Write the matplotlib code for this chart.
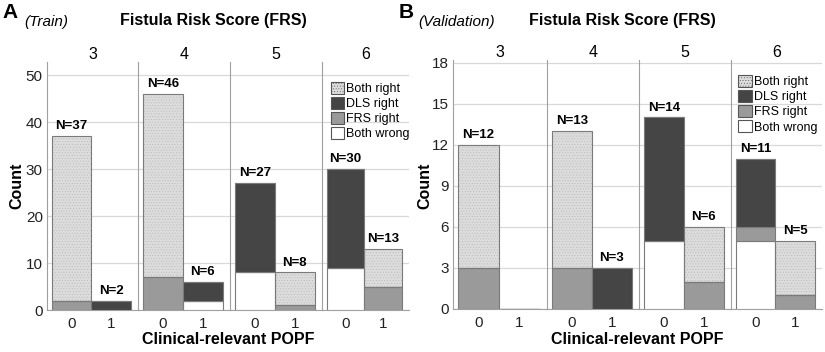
import numpy as np
import matplotlib
matplotlib.use('Agg')
import matplotlib.pyplot as plt
from matplotlib.patches import Patch

plt.rcParams['font.family'] = ['Liberation Sans', 'DejaVu Sans']
plt.rcParams['hatch.linewidth'] = 0.3

# Datos: FRS 3..6, POPF 0/1
frs = [3, 4, 5, 6]
popf = [0, 1]
grupos = ['Both right', 'DLS right', 'FRS right', 'Both wrong']

# entrenamiento (filas = FRS, columnas = POPF 0/1)
train_both_wrong = [[0, 0], [0, 2], [8, 0], [9, 0]]
train_frs_right = [[2, 0], [7, 0], [0, 1], [0, 5]]
train_dls_right = [[0, 2], [0, 4], [19, 0], [21, 0]]
train_both_right = [[35, 0], [39, 0], [0, 7], [0, 8]]

# validacion
val_both_wrong = [[0, 0], [0, 0], [5, 0], [5, 0]]
val_frs_right = [[3, 0], [3, 0], [0, 2], [1, 1]]
val_dls_right = [[0, 0], [0, 3], [9, 0], [5, 0]]
val_both_right = [[9, 0], [10, 0], [0, 4], [0, 4]]

colores = {'Both wrong': 'white', 'FRS right': '#9a9a9a',
           'DLS right': '#454545', 'Both right': '#dcdcdc'}
borde = '#7a7a7a'
trama = '#b4b4b4'

W, H = 825, 352
fig = plt.figure(figsize=(W / 100, H / 100), dpi=100)


def px(x0, y0, x1, y1):
    return [x0 / W, 1 - y1 / H, (x1 - x0) / W, (y1 - y0) / H]


def panel(bordes_x, y_top, y_bot, capas, ymax, yticks, leg_anchor):
    ejes = []
    for i, f in enumerate(frs):
        ax = fig.add_axes(px(bordes_x[i], y_top, bordes_x[i + 1], y_bot))
        base = np.zeros(2)
        for nombre, datos in capas:
            vals = np.array(datos[i], dtype=float)
            if nombre == 'Both right':
                # relleno punteado y luego el contorno
                ax.bar(popf, vals, width=1.0, bottom=base, color=colores[nombre],
                       edgecolor=trama, linewidth=0, hatch='......', zorder=3)
                ax.bar(popf, vals, width=1.0, bottom=base, fill=False,
                       edgecolor=borde, linewidth=0.8, zorder=4)
            else:
                ax.bar(popf, vals, width=1.0, bottom=base, color=colores[nombre],
                       edgecolor=borde, linewidth=0.8, zorder=4)
            base += vals
        for x, tot in zip(popf, base):
            if tot > 0:
                ax.text(x, tot + ymax * 0.015, f'N={int(tot)}', ha='center', va='bottom',
                        fontsize=9.5, fontweight='bold')
        ax.set_xlim(-0.62, 1.68)
        ax.set_ylim(0, ymax)
        ax.set_yticks(yticks)
        ax.set_xticks(popf)
        ax.yaxis.grid(True, color='#d8d8d8', linewidth=0.9, zorder=0)
        ax.set_axisbelow(True)
        for s in ['top', 'right']:
            ax.spines[s].set_visible(False)
        ax.spines['left'].set_color('#a0a0a0')
        ax.spines['bottom'].set_color('#a0a0a0')
        ax.tick_params(axis='y', length=0, labelsize=11, pad=3, colors='#222222')
        ax.tick_params(axis='x', length=0, labelsize=11, pad=5, colors='#222222')
        if i > 0:
            ax.tick_params(labelleft=False)
        ax.set_title(str(f), fontsize=11.5, pad=2)
        ejes.append(ax)
    orden = ['Both right', 'DLS right', 'FRS right', 'Both wrong']
    handles = [Patch(facecolor=colores[n], edgecolor='#555555', linewidth=0.8,
                     hatch='......' if n == 'Both right' else None) for n in orden]
    ejes[-1].legend(handles, orden, loc='upper left', bbox_to_anchor=leg_anchor,
                    frameon=False, fontsize=9, handlelength=1.1, handleheight=1.1,
                    handletextpad=0.15, labelspacing=0.15, borderaxespad=0, borderpad=0)
    return ejes


capas_train = [('Both wrong', train_both_wrong), ('FRS right', train_frs_right),
               ('DLS right', train_dls_right), ('Both right', train_both_right)]
capas_val = [('Both wrong', val_both_wrong), ('FRS right', val_frs_right),
             ('DLS right', val_dls_right), ('Both right', val_both_right)]

panel([47, 138, 230, 322, 409], 62, 310, capas_train, 52.8, np.arange(0, 51, 10), (0.1, 0.92))
panel([453, 547, 639, 731, 822], 60, 309, capas_val, 18.2, np.arange(0, 19, 3), (0.08, 0.94))

# textos
fig.text(10 / W, 1 - 13 / H, 'A', fontsize=15, fontweight='bold', ha='center', va='center')
fig.text(24 / W, 1 - 22 / H, '(Train)', fontsize=11, style='italic', ha='left', va='center')
fig.text(213 / W, 1 - 21 / H, 'Fistula Risk Score (FRS)', fontsize=11.5, fontweight='bold',
         ha='center', va='center')
fig.text(406 / W, 1 - 13 / H, 'B', fontsize=15, fontweight='bold', ha='center', va='center')
fig.text(418 / W, 1 - 22 / H, '(Validation)', fontsize=11, style='italic', ha='left', va='center')
fig.text(622 / W, 1 - 21 / H, 'Fistula Risk Score (FRS)', fontsize=11.5, fontweight='bold',
         ha='center', va='center')

fig.text(228 / W, 1 - 340 / H, 'Clinical-relevant POPF', fontsize=11.5, fontweight='bold',
         ha='center', va='center')
fig.text(637 / W, 1 - 340 / H, 'Clinical-relevant POPF', fontsize=11.5, fontweight='bold',
         ha='center', va='center')
fig.text(17 / W, 1 - 186 / H, 'Count', fontsize=11.5, fontweight='bold', rotation=90,
         ha='center', va='center')
fig.text(425 / W, 1 - 186 / H, 'Count', fontsize=11.5, fontweight='bold', rotation=90,
         ha='center', va='center')

fig.savefig('out.png', dpi=100)
